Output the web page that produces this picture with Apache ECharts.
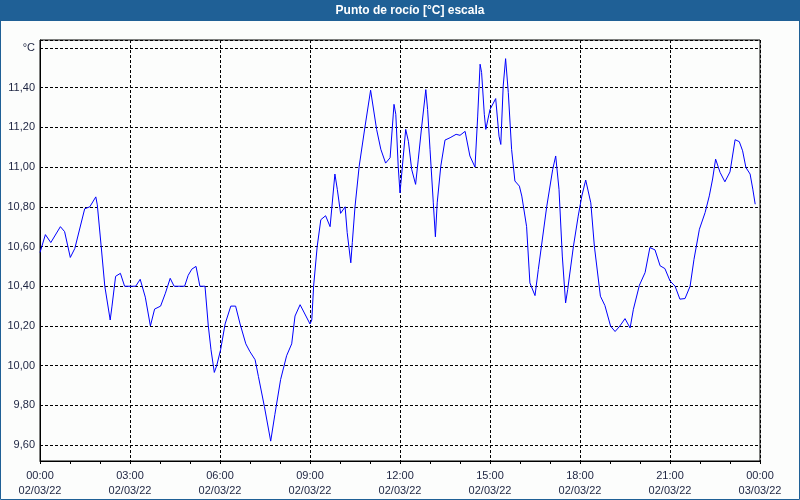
<!DOCTYPE html>
<html>
<head>
<meta charset="utf-8">
<script src="https://cdn.jsdelivr.net/npm/echarts@6/dist/echarts.min.js"></script>
<style>
html,body{margin:0;padding:0;background:#fcfdfc;}
#chart{width:800px;height:500px;}
</style>
</head>
<body>
<div id="chart"></div>
<script>
// Time of day in hours (02/03/22)
const hours = [
  0.00,0.18,0.36,0.68,0.82,1.01,1.16,1.49,1.66,1.86,1.91,2.04,2.16,2.34,2.40,2.52,2.68,2.82,3.19,3.34,
  3.51,3.68,3.82,4.02,4.18,4.34,4.47,4.82,4.94,5.06,5.20,5.33,5.50,5.61,5.70,5.81,5.89,6.02,6.17,6.36,
  6.52,6.67,6.86,7.00,7.17,7.28,7.48,7.69,7.83,8.02,8.22,8.39,8.50,8.67,9.00,9.06,9.12,9.24,9.36,9.52,
  9.67,9.83,9.91,10.02,10.17,10.24,10.36,10.41,10.50,10.64,10.83,11.02,11.22,11.36,11.52,11.67,11.80,11.86,11.94,12.00,
  12.19,12.28,12.39,12.52,12.61,12.72,12.86,12.92,13.00,13.11,13.18,13.24,13.36,13.50,13.67,13.87,14.00,14.17,14.33,14.50,
  14.59,14.67,14.72,14.81,14.86,15.00,15.19,15.30,15.36,15.44,15.52,15.61,15.72,15.83,15.98,16.06,16.22,16.33,16.50,16.61,
  16.89,17.09,17.19,17.30,17.41,17.52,17.59,17.78,17.94,18.06,18.19,18.36,18.48,18.68,18.83,19.02,19.17,19.33,19.50,19.67,
  19.78,19.98,20.17,20.33,20.50,20.67,20.83,21.00,21.17,21.33,21.50,21.67,21.80,21.98,22.17,22.31,22.42,22.52,22.67,22.83,
  23.00,23.17,23.31,23.42,23.53,23.67,23.76,23.84
];
// Dew point [°C]
const dewPoint = [
  10.57,10.66,10.62,10.70,10.675,10.545,10.59,10.79,10.80,10.85,10.81,10.60,10.40,10.23,10.30,10.45,10.465,10.40,10.40,10.435,
  10.345,10.20,10.285,10.30,10.365,10.44,10.40,10.40,10.455,10.486,10.50,10.40,10.40,10.20,10.08,9.966,10.00,10.08,10.21,10.30,
  10.30,10.21,10.11,10.07,10.03,9.946,9.794,9.62,9.755,9.93,10.05,10.11,10.25,10.307,10.21,10.23,10.40,10.60,10.735,10.755,
  10.70,10.965,10.888,10.767,10.80,10.67,10.518,10.62,10.80,11.005,11.20,11.387,11.19,11.09,11.02,11.047,11.316,11.266,11.005,10.87,
  11.19,11.13,10.988,10.913,11.04,11.20,11.39,11.29,11.09,10.82,10.649,10.82,11.005,11.136,11.148,11.165,11.16,11.18,11.056,11.00,
  11.257,11.518,11.476,11.266,11.19,11.29,11.345,11.156,11.114,11.408,11.546,11.375,11.089,10.93,10.904,10.854,10.70,10.417,10.353,10.484,
  10.80,10.988,11.056,10.888,10.552,10.316,10.384,10.60,10.753,10.854,10.935,10.82,10.60,10.35,10.303,10.199,10.172,10.20,10.237,10.19,
  10.284,10.405,10.469,10.595,10.583,10.503,10.489,10.427,10.40,10.335,10.338,10.40,10.536,10.687,10.771,10.855,10.94,11.04,10.973,10.926,
  10.976,11.138,11.128,11.082,10.998,10.965,10.889,10.813
];
const xTickLabels = [
  '00:00\n02/03/22','03:00\n02/03/22','06:00\n02/03/22','09:00\n02/03/22','12:00\n02/03/22',
  '15:00\n02/03/22','18:00\n02/03/22','21:00\n02/03/22','00:00\n03/03/22'
];
const yTicks = [9.6,9.8,10.0,10.2,10.4,10.6,10.8,11.0,11.2,11.4,11.6];
const yTickLabels = ['9,60','9,80','10,00','10,20','10,40','10,60','10,80','11,00','11,20','11,40','°C'];
const titleText = 'Punto de rocío [°C] escala';

const chart = echarts.init(document.getElementById('chart'), null, {renderer:'canvas'});
const labelColor = '#1c2340';
const font = 'Liberation Sans';
const option = {
  backgroundColor: '#fcfdfc',
  animation: false,
  graphic: [
    {type:'rect', shape:{x:0,y:0,width:800,height:21}, style:{fill:'#1f6096'}, z:10},
    {type:'text', x:410, y:10.5, style:{text:titleText, fill:'#ffffff', font:'bold 12px "Liberation Sans"', align:'center', verticalAlign:'middle'}, z:11},
    {type:'rect', shape:{x:0.5,y:0.5,width:799,height:499}, style:{fill:null, stroke:'#1f6096', lineWidth:1}, z:10}
  ],
  grid: {left:40, right:40, top:40, bottom:39, show:true, borderColor:'#000', borderWidth:1, backgroundColor:'transparent'},
  xAxis: {
    type:'value', min:0, max:24, interval:3,
    axisLine:{show:true, lineStyle:{color:'#000', width:1}},
    axisTick:{show:true, length:3, lineStyle:{color:'#000'}},
    minorTick:{show:true, splitNumber:3, length:3, lineStyle:{color:'#000'}},
    splitLine:{show:true, lineStyle:{color:'#000', type:[3,2], width:1}},
    axisLabel:{
      margin:7, color:labelColor, fontFamily:font, fontSize:11, lineHeight:15,
      formatter: v => { const i = Math.round(v/3); return xTickLabels[i] || ''; }
    }
  },
  yAxis: {
    type:'value', min:9.52, max:11.64, splitNumber:10,
    axisLine:{show:true, lineStyle:{color:'#000', width:1}},
    axisTick:{show:false},
    splitLine:{show:true, lineStyle:{color:'#000', type:[3,2], width:1}},
    axisLabel:{
      margin:5, color:labelColor, fontFamily:font, fontSize:11,
      showMinLabel:false, showMaxLabel:false,
      formatter: v => { const i = yTicks.findIndex(t => Math.abs(t - v) < 1e-6); return i >= 0 ? yTickLabels[i] : ''; }
    }
  },
  series: [{
    type:'line', data: hours.map((h,i) => [h, dewPoint[i]]),
    showSymbol:false, symbol:'none', smooth:false,
    lineStyle:{color:'#0000ff', width:1}, z:5
  }]
};
chart.setOption(option);
</script>
</body>
</html>
